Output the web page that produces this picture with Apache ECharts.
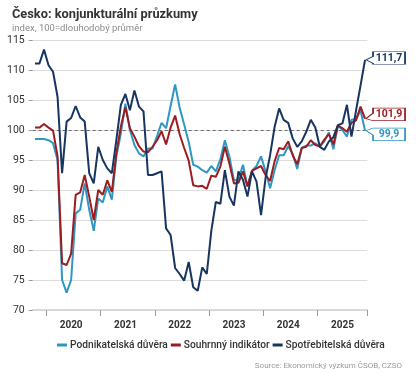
<!DOCTYPE html>
<html>
<head>
<meta charset="utf-8">
<script src="https://cdn.jsdelivr.net/npm/echarts@6/dist/echarts.min.js"></script>
<style>
html,body{margin:0;padding:0;background:#fff;}
#c{width:416px;height:374px;}
</style>
</head>
<body>
<div id="c"></div>
<script>
// ---- data (monthly, Oct 2019 – Nov 2025) ----
const startYear = 2019, startMonth = 10, endYear = 2025, endMonth = 11;
const yearLabels = ['2020', '2021', '2022', '2023', '2024', '2025'];
const seriesNames = ['Podnikatelská důvěra', 'Souhrnný indikátor', 'Spotřebitelská důvěra'];
const business = [98.5,98.5,98.5,98.3,97.8,95.0,75.0,72.9,75.0,86.1,
  86.7,91.1,86.7,83.2,88.6,87.9,90.6,88.4,95.6,99.4,
  104.4,100.0,97.5,96.1,95.6,96.9,96.9,99.0,101.2,100.3,
  104.0,107.6,103.7,100.9,98.0,94.2,93.9,93.3,92.9,94.0,
  93.1,95.1,98.3,95.6,91.6,91.7,94.2,90.6,93.2,94.0,
  95.6,93.1,90.3,93.3,95.8,95.8,97.3,96.0,93.5,97.0,
  97.4,97.4,97.8,97.2,98.1,99.6,96.8,100.8,100.0,98.9,
  101.7,101.8,103.3,99.9];
const composite = [100.4,100.4,101.0,100.4,99.9,95.6,77.8,77.5,79.4,89.2,
  89.6,92.5,88.9,85.0,90.0,89.2,91.6,89.7,96.1,100.6,
  103.8,100.3,98.9,97.3,96.4,96.3,97.2,98.3,99.8,97.6,
  100.4,102.4,99.3,97.0,94.9,90.8,90.6,90.7,90.2,92.4,
  92.2,93.9,97.2,94.4,91.1,91.2,93.1,90.6,93.2,93.6,
  94.0,92.5,91.5,94.8,97.0,96.8,98.1,95.8,94.3,97.0,
  97.2,98.3,97.5,97.3,98.4,99.3,97.6,100.7,100.3,99.7,
  101.2,101.6,103.9,101.9];
const consumer = [111.1,111.1,113.4,110.8,109.7,105.5,92.8,101.4,102.0,104.0,
  102.1,101.4,92.8,91.1,97.2,95.0,93.6,92.8,98.3,104.2,
  106.0,103.3,106.6,103.9,103.1,92.5,92.5,92.8,93.1,83.6,
  82.5,77.0,76.0,74.9,78.0,73.8,73.2,77.1,76.0,83.2,
  88.0,87.7,93.3,88.9,87.4,93.1,91.7,88.9,93.1,91.4,
  85.8,92.0,95.8,100.5,103.6,101.7,101.2,98.6,97.2,98.1,
  99.7,101.7,100.4,97.2,96.7,98.1,98.8,100.8,101.1,104.2,
  98.9,103.2,107.4,111.7];
const endLabels = ['99,9', '101,9', '111,7'];
const colors = ['#2f97c1', '#9c1c20', '#163560'];

// month categories
const months = [];
for (let y = startYear; y <= endYear; y++) {
  for (let m = 1; m <= 12; m++) {
    if (y === startYear && m < startMonth) continue;
    if (y === endYear && m > endMonth) break;
    months.push(y + '-' + String(m).padStart(2, '0'));
  }
}

const FONT = 'Roboto';
// callout shapes (tip on the left, box on the right)
const calloutPaths = [
  'path://M0,2.5L7,0L39,0L39,12.5L7,12.5L7,7Z',
  'path://M0,10.5L7,5L7,0L39,0L39,12.5L7,12.5Z',
  'path://M0,8L7,4.5L7,0L39,0L39,12.5L7,12.5L7,11.5Z'
];
const tipY = [2.5, 10.5, 8];

function mkSeries(idx, data) {
  const last = data.length - 1;
  const s = {
    name: seriesNames[idx],
    type: 'line',
    data: data,
    symbol: 'none',
    lineStyle: { width: 2, color: colors[idx] },
    itemStyle: { color: colors[idx] },
    emphasis: { disabled: true },
    z: 3 + idx,
    markPoint: {
      silent: true,
      symbol: calloutPaths[idx],
      symbolSize: [39, 12.5],
      symbolOffset: [20.5, 6.25 - tipY[idx]],
      itemStyle: { color: '#fff', borderColor: colors[idx], borderWidth: 1 },
      label: {
        show: true, position: 'inside', offset: [3.5, 0.5],
        formatter: () => endLabels[idx],
        color: colors[idx], fontSize: 10.5, fontWeight: 'bold', fontFamily: FONT
      },
      data: [{ coord: [last, data[last]] }]
    }
  };
  if (idx === 0) {
    s.markLine = {
      silent: true, symbol: 'none', z: 1,
      label: { show: false },
      lineStyle: { type: [3, 3], color: '#6a6a6a', width: 1 },
      data: [{ yAxis: 100 }]
    };
  }
  return s;
}

const chart = echarts.init(document.getElementById('c'), null, { renderer: 'canvas' });
chart.setOption({
  animation: false,
  textStyle: { fontFamily: FONT },
  title: {
    text: 'Česko: konjunkturální průzkumy',
    subtext: 'index, 100=dlouhodobý průměr',
    left: 7, top: 3, itemGap: 3,
    textStyle: { fontSize: 12.8, fontWeight: 'bold', color: '#333', fontFamily: FONT },
    subtextStyle: { fontSize: 9.5, color: '#8c8c8c', fontFamily: FONT }
  },
  grid: { left: 32.7, right: 48.7, top: 40, bottom: 64, containLabel: false },
  xAxis: {
    type: 'category',
    data: months,
    boundaryGap: true,
    axisLine: { show: true, lineStyle: { color: '#d8d8d8', width: 2 } },
    axisTick: {
      show: true, length: 6,
      interval: (i, v) => v.endsWith('-01'),
      lineStyle: { color: '#9a9a9a', width: 1 }
    },
    axisLabel: {
      interval: (i, v) => v.endsWith('-06'),
      formatter: v => yearLabels.find(y => v.startsWith(y)) || '',
      color: '#333', fontSize: 10, fontWeight: 'bold', margin: 10, fontFamily: FONT
    },
    splitLine: { show: false }
  },
  yAxis: {
    type: 'value', min: 70, max: 115, interval: 5,
    axisLine: { show: false },
    axisTick: { show: true, length: 4, lineStyle: { color: '#9a9a9a' } },
    axisLabel: { color: '#333', fontSize: 10.5, margin: 8, fontFamily: FONT },
    splitLine: { lineStyle: { color: '#dcdcdc', width: 1 } }
  },
  legend: {
    left: 52, top: 335,
    itemWidth: 10, itemHeight: 3, itemGap: 3,
    icon: 'rect',
    textStyle: { fontSize: 10.2, color: '#333', fontWeight: 500, fontFamily: FONT, padding: [0, 0, 0, -2] },
    data: seriesNames
  },
  graphic: [{
    type: 'text', right: 14, bottom: 4,
    style: { text: 'Source: Ekonomický výzkum ČSOB, CZSO', fill: '#999', fontSize: 8, fontFamily: FONT }
  }],
  series: [mkSeries(0, business), mkSeries(1, composite), mkSeries(2, consumer)]
});
</script>
</body>
</html>
